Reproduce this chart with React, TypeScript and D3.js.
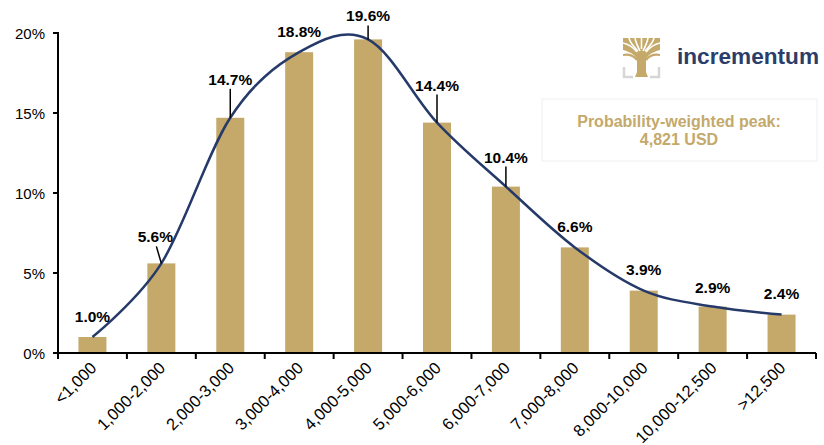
import React from "react";
import * as d3 from "d3";

const categories = ["<1,000", "1,000-2,000", "2,000-3,000", "3,000-4,000", "4,000-5,000", "5,000-6,000", "6,000-7,000", "7,000-8,000", "8,000-10,000", "10,000-12,500", ">12,500"];
const values = [1.0, 5.6, 14.7, 18.8, 19.6, 14.4, 10.4, 6.6, 3.9, 2.9, 2.4];
const yTicks = [0, 5, 10, 15, 20];
// label layout (pixels above bar top) and leader lines
const labelLift = [15, 21, 33, 15, 18, 32, 24, 15, 16, 14, 16];
const leaderIdx = [1, 2, 4, 5, 6];

const W = 824, H = 445;
const m = { left: 58, right: 816, top: 33, bottom: 353 };
const GOLD = "#C4A96B";
const NAVY = "#263A6A";
const FONT = "Liberation Sans, Arial, sans-serif";

export default function App() {
  const x = d3.scaleBand<string>().domain(categories).range([m.left, m.right]).padding(0);
  const y = d3.scaleLinear().domain([0, 20]).range([m.bottom, m.top]);
  const bw = 28;
  const cx = (i: number) => (x(categories[i]) as number) + x.bandwidth() / 2;
  const line = d3.line<number>().x((_, i) => cx(i)).y((d) => y(d)).curve(d3.curveCardinal.tension(0));
  const boundaries = categories.map((c) => x(c) as number).concat([m.right]);

  return (
    <svg width={W} height={H} style={{ position: "absolute", left: 0, top: 0, background: "#fff" }} fontFamily={FONT}>
      {/* bars */}
      {values.map((v, i) => (
        <rect key={i} x={cx(i) - bw / 2} y={y(v)} width={bw} height={m.bottom - y(v)} fill={GOLD} />
      ))}
      {/* curve */}
      <path d={line(values) || ""} fill="none" stroke={NAVY} strokeWidth={2.5} />
      {/* leaders */}
      {leaderIdx.map((i) => {
        const top = y(values[i]);
        const lb = top - labelLift[i] + 4;
        const dx = i === 1 ? -5 : 0;
        return <line key={i} x1={cx(i) + dx} y1={lb} x2={cx(i)} y2={top} stroke="#000" strokeWidth={1.5} />;
      })}
      {/* value labels */}
      {values.map((v, i) => (
        <text key={i} x={cx(i) + (i === 1 ? -6 : 0)} y={y(v) - labelLift[i]} textAnchor="middle" fontSize={15.5} fontWeight="bold" fill="#000">
          {v.toFixed(1)}%
        </text>
      ))}
      {/* y axis */}
      <line x1={m.left} y1={m.top - 1} x2={m.left} y2={m.bottom} stroke="#000" strokeWidth={2} />
      {yTicks.map((t) => (
        <g key={t}>
          <line x1={m.left - 5} x2={m.left} y1={y(t)} y2={y(t)} stroke="#000" strokeWidth={2} />
          <text x={m.left - 13} y={y(t) + 5.5} textAnchor="end" fontSize={15} fill="#000">{t}%</text>
        </g>
      ))}
      {/* x axis */}
      <line x1={m.left} y1={m.bottom} x2={m.right} y2={m.bottom} stroke="#000" strokeWidth={2} />
      {boundaries.map((b, i) => (
        <line key={i} x1={b} x2={b} y1={m.bottom} y2={m.bottom + 6} stroke="#000" strokeWidth={2} />
      ))}
      {categories.map((c, i) => (
        <text key={c} transform={`translate(${cx(i) + 5},${m.bottom + 16}) rotate(-45)`} textAnchor="end" fontSize={16.5} fill="#000">
          {c}
        </text>
      ))}
      {/* logo */}
      <g>
        <defs>
          <clipPath id="treeTop">
            <rect x={623} y={38} width={37} height={30} />
          </clipPath>
        </defs>
        <g clipPath="url(#treeTop)">
          <path d="M623,38 L660,38 L660,50 C652,52 646,56 645,62 L638,62 C637,56 631,52 623,50 Z" fill={GOLD} />
          {[
            "M629,38 C630,43 634,47 638,51",
            "M635,38 C636,43 638,47 640,51",
            "M648,38 C647,43 645,47 643,51",
            "M654,38 C653,43 649,47 645,51",
            "M623,43 C628,44 633,47 637,52",
            "M660,43 C655,44 650,47 646,52",
            "M641.5,38 L641.5,49",
          ].map((d, k) => (
            <path key={k} d={d} stroke="#fff" strokeWidth={1.6} fill="none" />
          ))}
          <path d="M623,55 C629,54 634,56 637,60" stroke={GOLD} strokeWidth={2.2} fill="none" />
          <path d="M660,55 C654,54 649,56 646,60" stroke={GOLD} strokeWidth={2.2} fill="none" />
        </g>
        <path d="M637,58 L646,58 L646,72 L648,77 L635,77 L637,72 Z" fill={GOLD} />
        <path d="M624,67 L624,77 L633,77" stroke="#D6D6D6" strokeWidth={2.5} fill="none" />
        <path d="M659,67 L659,77 L650,77" stroke="#D6D6D6" strokeWidth={2.5} fill="none" />
        <text x={677} y={64} fontSize={22} fontWeight="bold" fill="#2B3D6B" textLength={142} lengthAdjust="spacingAndGlyphs">incrementum</text>
      </g>
      {/* annotation box */}
      <rect x={542} y={99} width={275} height={62} fill="#fff" stroke="#F0F0F0" strokeWidth={1} />
      <text x={679} y={127} textAnchor="middle" fontSize={16} fontWeight="bold" fill={GOLD}>Probability-weighted peak:</text>
      <text x={679} y={145} textAnchor="middle" fontSize={16} fontWeight="bold" fill={GOLD}>4,821 USD</text>
    </svg>
  );
}
